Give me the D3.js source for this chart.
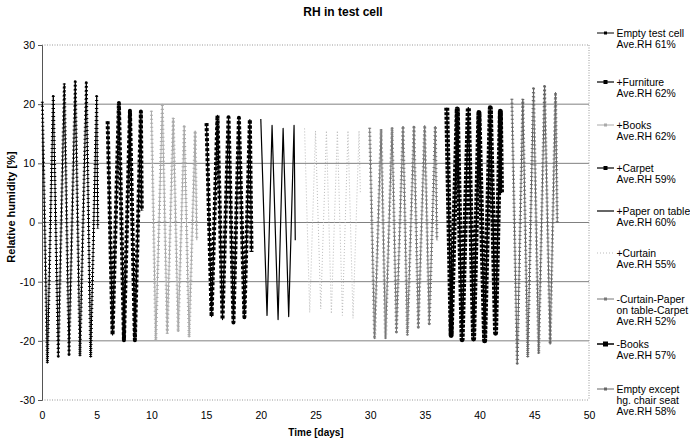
<!DOCTYPE html>
<html><head><meta charset="utf-8">
<script src="https://cdn.jsdelivr.net/npm/d3@7"></script>
<style>body{margin:0;background:#fff} svg{font-family:"Liberation Sans",Arial,sans-serif}</style>
</head><body><svg id="c" width="690" height="443"></svg>
<script>
const chartTitle = "RH in test cell";
const xTitle = "Time [days]";
const yTitle = "Relative humidity [%]";
const xTicks = [0,5,10,15,20,25,30,35,40,45,50];
const yTicks = [-30,-20,-10,0,10,20,30];
const seriesNames = [["Empty test cell"],["+Furniture"],["+Books"],["+Carpet"],["+Paper on table"],["+Curtain"],["-Curtain-Paper","on table-Carpet"],["-Books"],["Empty except","hg. chair seat"]];
const aveRH = [61,62,62,59,60,55,52,57,58];

// [day, RH deviation %] — daily peaks and troughs
const emptyCell = [[0.03,20.4],[0.49,-23.8],[1.03,21.3],[1.49,-22.6],[2.04,23.5],[2.47,-22.3],[3.04,23.8],[3.47,-22.6],[4.05,23.6],[4.45,-22.8],[5.0,21.3],[5.1,-1]];
const furniture = [[6.0,17.1],[6.45,-19.0],[7.03,20.2],[7.49,-19.9],[8.04,18.9],[8.49,-19.9],[9.04,18.75],[9.12,2]];
const books = [[10.0,18.9],[10.4,-19.9],[11.0,19.8],[11.45,-18.8],[12.0,17.7],[12.45,-18.5],[13.0,16.2],[13.45,-19.4],[14.0,15.5],[14.15,-3]];
const carpet = [[15.04,16.8],[15.5,-15.9],[16.04,18.1],[16.5,-16.4],[17.05,17.8],[17.5,-16.9],[18.0,17.7],[18.5,-16.0],[19.0,17.4],[19.15,-5]];
const paper = [[20.0,17.5],[20.57,-15.7],[21.03,16.4],[21.58,-16.4],[22.04,15.9],[22.55,-15.9],[23.04,16.4],[23.15,-3]];
const curtain = [[24.0,15.9],[24.47,-15.2],[25.0,15.5],[25.48,-14.6],[26.0,15.5],[26.45,-15.4],[27.0,15.5],[27.46,-15.7],[27.97,15.5],[28.43,-16.2],[28.98,15.5],[29.1,5]];
const removed = [[29.95,16.0],[30.4,-19.7],[31.0,15.8],[31.4,-19.7],[32.0,16.1],[32.4,-18.5],[33.0,16.3],[33.4,-19.1],[34.0,16.1],[34.4,-17.7],[34.98,16.4],[35.4,-17.1],[35.95,16.3],[36.1,-3]];
const minusBooks = [[37.0,19.4],[37.4,-19.1],[37.96,19.2],[38.4,-19.8],[38.97,19.4],[39.45,-19.7],[39.94,18.6],[40.46,-20.0],[40.98,19.4],[41.46,-18.7],[41.9,18.8],[42.0,5]];
const chairSeat = [[42.95,20.9],[43.44,-23.8],[43.95,20.9],[44.4,-22.8],[44.93,22.6],[45.4,-22.2],[45.94,23.0],[46.45,-20.6],[46.94,22.0],[47.1,0]];

const seriesData = [emptyCell, furniture, books, carpet, paper, curtain, removed, minusBooks, chairSeat];
const styles = [
  {c:"#000", w:1, bw:3, bd:"1,3"},
  {c:"#000", w:1.2, bw:4, bd:"3,2"},
  {c:"#aaa", w:1, bw:3, bd:"1,3"},
  {c:"#000", w:1.2, bw:4, bd:"3,2"},
  {c:"#000", w:1.2, bw:0},
  {c:"#bbb", w:1, bw:0, ld:"1,2"},
  {c:"#777", w:1, bw:3, bd:"1,3"},
  {c:"#000", w:1.5, bw:5, bd:"3,1.5"},
  {c:"#666", w:1, bw:3, bd:"1,3"}
];

const svg = d3.select("#c");
const x = d3.scaleLinear().domain([0,50]).range([42,589]);
const y = d3.scaleLinear().domain([-30,30]).range([400,45]);

svg.append("text").attr("x",343).attr("y",16).attr("text-anchor","middle")
  .attr("font-size",12).attr("font-weight","bold").text(chartTitle);

// grid
svg.append("g").selectAll("line").data(yTicks.filter(v=>v>-30 && v<30)).join("line")
  .attr("x1",x(0)).attr("x2",x(50)).attr("y1",d=>y(d)).attr("y2",d=>y(d))
  .attr("stroke","#808080").attr("stroke-width",1);
// dotted frame
const frame = svg.append("g").attr("stroke","#999").attr("stroke-dasharray","1,1.5").attr("fill","none");
frame.append("line").attr("x1",x(0)).attr("x2",x(50)).attr("y1",y(30)).attr("y2",y(30));
frame.append("line").attr("x1",x(0)).attr("x2",x(50)).attr("y1",y(-30)).attr("y2",y(-30));
frame.append("line").attr("x1",x(50)).attr("x2",x(50)).attr("y1",y(30)).attr("y2",y(-30));

// axes
const fmt = d => String(d);
const ya = svg.append("g").attr("transform",`translate(${x(0)},0)`)
  .call(d3.axisLeft(y).tickValues(yTicks).tickFormat(fmt).tickSize(4).tickPadding(3));
ya.selectAll("text").attr("font-size",10.5).attr("font-family","Liberation Sans, Arial, sans-serif").attr("fill","#000");
ya.selectAll("path,line").attr("stroke","#555");
const xa = svg.append("g").attr("transform",`translate(0,${y(-30)})`)
  .call(d3.axisBottom(x).tickValues(xTicks).tickFormat(fmt).tickSize(0).tickPadding(12));
xa.select(".domain").remove();
xa.selectAll("text").attr("font-size",10.5).attr("font-family","Liberation Sans, Arial, sans-serif").attr("fill","#000");

svg.append("text").attr("x",316).attr("y",436).attr("text-anchor","middle")
  .attr("font-size",10).attr("font-weight","bold").text(xTitle);
svg.append("text").attr("transform",`translate(15,207) rotate(-90)`).attr("text-anchor","middle")
  .attr("font-size",11).attr("font-weight","bold").text(yTitle);

// series
const line = d3.line().x(d=>x(d[0])).y(d=>y(d[1]));
const sg = svg.append("g").attr("fill","none");
seriesData.forEach((data,i)=>{
  const s = styles[i];
  sg.append("path").attr("d",line(data)).attr("stroke",s.c).attr("stroke-width",s.w)
    .attr("stroke-dasharray",s.ld||null).attr("stroke-linejoin","round");
  if (s.bw) sg.append("path").attr("d",line(data)).attr("stroke",s.c).attr("stroke-width",s.bw)
    .attr("stroke-dasharray",s.bd).attr("stroke-linejoin","round");
});

// legend
const legendY = [33,82,125,168,211,253,299,344,389];
const lg = svg.append("g");
seriesNames.forEach((lines,i)=>{
  const s = styles[i];
  const g = lg.append("g").attr("transform",`translate(597,${legendY[i]})`);
  g.append("line").attr("x1",0).attr("x2",17).attr("y1",0).attr("y2",0)
    .attr("stroke",s.c).attr("stroke-width",s.w).attr("stroke-dasharray",s.ld||null);
  if (s.bw) g.append("rect").attr("x",8.5-s.bw/2).attr("y",-s.bw/2).attr("width",s.bw).attr("height",s.bw).attr("fill",s.c);
  const t = g.append("text").attr("y",3.7).attr("font-size",10.4);
  lines.concat(["Ave.RH " + aveRH[i] + "%"]).forEach((ln,k)=>{
    t.append("tspan").attr("x",19.5).attr("dy",k?11:0).text(ln);
  });
});
</script></body></html>
